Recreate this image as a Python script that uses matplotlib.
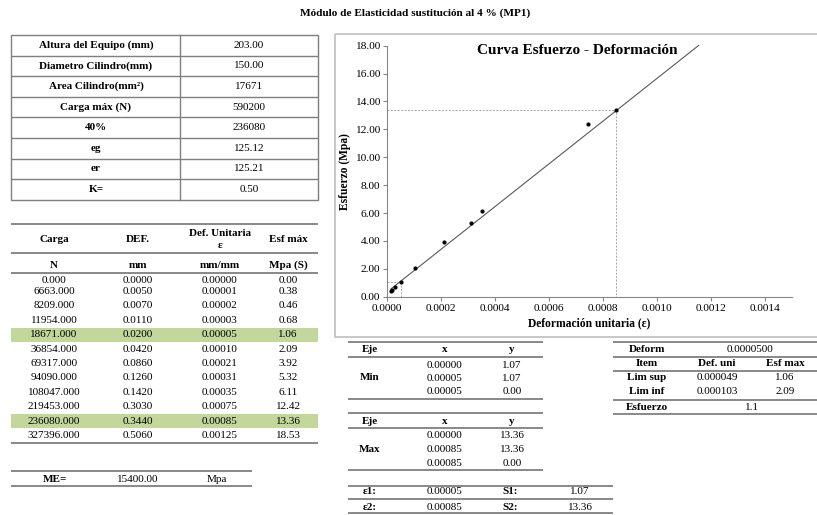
import matplotlib
matplotlib.use("Agg")
import matplotlib.pyplot as plt
from matplotlib.patches import Rectangle

plt.rcParams["font.family"] = ["Liberation Serif", "DejaVu Serif"]

# --- data ---
PARAM_LABELS = ["Altura del Equipo (mm)", "Diametro Cilindro(mm)", "Area Cilindro(mm²)",
                "Carga máx (N)", "40%", "eg", "er", "K="]
PARAM_VALUES = ["203.00", "150.00", "17671", "590200", "236080", "125.12", "125.21", "0.50"]

LOADS = [0.0, 6663.0, 8209.0, 11954.0, 18671.0, 36854.0, 69317.0, 94090.0,
         108047.0, 219453.0, 236080.0, 327396.0]
DEF_MM = [0.0, 0.005, 0.007, 0.011, 0.020, 0.042, 0.086, 0.126, 0.142, 0.303, 0.344, 0.506]
STRAIN = [0.0, 0.0000123, 0.0000172, 0.0000271, 0.0000493, 0.000103, 0.000212,
          0.000310, 0.000350, 0.000746, 0.000847, 0.001246]
STRESS = [0.00, 0.38, 0.46, 0.68, 1.06, 2.09, 3.92, 5.32, 6.11, 12.42, 13.36, 18.53]
HIGHLIGHT = [4, 10]
N_PLOTTED = 11  # last row is off the chart

TREND_SLOPE = 15300.0
TREND_INTERCEPT = 0.35
TREND_END = 0.001155

MIN_X = [0.0, 0.00005, 0.00005]
MIN_Y = [1.07, 1.07, 0.00]
MAX_X = [0.0, 0.00085, 0.00085]
MAX_Y = [13.36, 13.36, 0.00]
EPS1, S1 = 0.00005, 1.07
EPS2, S2 = 0.00085, 13.36

DEFORM = "0.0000500"
LIM_SUP = (0.000049, 1.06)
LIM_INF = (0.000103, 2.09)
ESFUERZO = 1.1
ME = 15400.00

W, H = 817, 515
LINE = "#7f7f7f"
GREEN = "#c3d69b"
FS = 8.0

fig = plt.figure(figsize=(W / 100, H / 100), dpi=100)
bg = fig.add_axes([0, 0, 1, 1])
bg.set_xlim(0, W); bg.set_ylim(H, 0); bg.axis("off")


def hl(x0, x1, y, lw=1.3, c=LINE):
    bg.plot([x0, x1], [y, y], color=c, lw=lw, solid_capstyle="butt")


def tx(x, y, s, bold=False, size=FS, ha="center"):
    bg.text(x, y, s, ha=ha, va="center", fontsize=size,
            fontweight="bold" if bold else "normal")


tx(415, 13, "Módulo de Elasticidad sustitución al 4 % (MP1)", bold=True, size=8.1)

# parameter box
top, rh = 35, 20.6
bg.add_patch(Rectangle((11, top), 307, rh * 8, fill=False, ec=LINE, lw=1))
bg.plot([180, 180], [top, top + rh * 8], color=LINE, lw=1)
for i, (lab, val) in enumerate(zip(PARAM_LABELS, PARAM_VALUES)):
    if i:
        hl(11, 318, top + rh * i, lw=1)
    tx(96, top + rh * (i + 0.5), lab, bold=True)
    tx(249, top + rh * (i + 0.5), val)

# load table
cols = [54, 138, 220, 288]
hl(11, 318, 224); hl(11, 318, 253); hl(11, 318, 273); hl(11, 318, 443)
tx(cols[0], 240, "Carga", bold=True); tx(cols[1], 240, "DEF.", bold=True)
tx(cols[2], 234, "Def. Unitaria", bold=True); tx(cols[2], 245, "ε", bold=True)
tx(cols[3], 240, "Esf máx", bold=True)
for c, u in zip(cols, ["N", "mm", "mm/mm", "Mpa (S)"]):
    tx(c, 265, u, bold=True)
row_y = [280.5] + [291.5 + 14.4 * k for k in range(len(LOADS) - 1)]
for i in range(len(LOADS)):
    y = row_y[i]
    if i in HIGHLIGHT:
        bg.add_patch(Rectangle((11, y - 7.2), 307, 14.4, color=GREEN, lw=0, zorder=0))
    tx(cols[0], y, f"{LOADS[i]:.3f}")
    tx(cols[1], y, f"{DEF_MM[i]:.4f}")
    tx(cols[2], y, f"{STRAIN[i]:.5f}")
    tx(cols[3], y, f"{STRESS[i]:.2f}")

hl(11, 252, 471); hl(11, 252, 486)
tx(55, 479, "ME=", bold=True); tx(138, 479, f"{ME:.2f}"); tx(217, 479, "Mpa")

# min / max tables
for y0, name, xs, ys in [(342, "Min", MIN_X, MIN_Y), (413, "Max", MAX_X, MAX_Y)]:
    hl(348, 543, y0); hl(348, 543, y0 + 15); hl(348, 543, y0 + 57)
    tx(370, y0 + 8, "Eje", bold=True); tx(445, y0 + 8, "x", bold=True); tx(512, y0 + 8, "y", bold=True)
    tx(370, y0 + 36, name, bold=True)
    for k, (xv, yv) in enumerate(zip(xs, ys)):
        tx(445, y0 + 23 + 13.5 * k, f"{xv:.5f}")
        tx(512, y0 + 23 + 13.5 * k, f"{yv:.2f}")

hl(348, 613, 486); hl(348, 613, 499); hl(348, 613, 513)
tx(370, 492, "ε1:", bold=True); tx(445, 492, f"{EPS1:.5f}"); tx(510, 492, "S1:", bold=True); tx(580, 492, f"{S1:.2f}")
tx(370, 507, "ε2:", bold=True); tx(445, 507, f"{EPS2:.5f}"); tx(510, 507, "S2:", bold=True); tx(580, 507, f"{S2:.2f}")

# right summary table
for y in [342, 357, 371, 400, 414]:
    hl(613, W, y)
tx(647, 350, "Deform", bold=True); tx(750, 350, DEFORM)
tx(647, 364, "Item", bold=True); tx(717, 364, "Def. uni", bold=True); tx(785, 364, "Esf max", bold=True)
tx(647, 378, "Lim sup", bold=True); tx(717, 378, f"{LIM_SUP[0]:.6f}"); tx(785, 378, f"{LIM_SUP[1]:.2f}")
tx(647, 392, "Lim inf", bold=True); tx(717, 392, f"{LIM_INF[0]:.6f}"); tx(785, 392, f"{LIM_INF[1]:.2f}")
tx(647, 408, "Esfuerzo", bold=True); tx(752, 408, f"{ESFUERZO:.1f}")

# chart frame
bg.add_patch(Rectangle((335, 34), 500, 303, fill=False, ec="#bfbfbf", lw=1.2))

ax = fig.add_axes([387.3 / W, 1 - 296.7 / H, 404.4 / W, 251 / H])
ax.set_facecolor("none")
ax.set_xlim(0, 0.0015); ax.set_ylim(0, 18)
ax.set_xticks([0.0002 * k for k in range(8)])
ax.set_yticks(range(0, 19, 2))
ax.set_xticklabels([f"{0.0002 * k:.4f}" for k in range(8)], fontsize=8.2)
ax.set_yticklabels([f"{v:.2f}" for v in range(0, 19, 2)], fontsize=8.2)
for s in ["top", "right"]:
    ax.spines[s].set_visible(False)
for s in ["left", "bottom"]:
    ax.spines[s].set_color("#868686"); ax.spines[s].set_linewidth(0.8)
ax.tick_params(colors="#868686", labelcolor="black", length=3, width=0.8, pad=2)

ax.plot(MIN_X, MIN_Y, ls=(0, (2, 1.5)), color="#a6a6a6", lw=0.7)
ax.plot(MAX_X, MAX_Y, ls=(0, (2, 1.5)), color="#a6a6a6", lw=0.7)
tx0 = STRAIN[1]
ax.plot([tx0, TREND_END], [TREND_SLOPE * tx0 + TREND_INTERCEPT, TREND_SLOPE * TREND_END + TREND_INTERCEPT],
        color="#595959", lw=0.8, clip_on=False)
ax.scatter(STRAIN[1:N_PLOTTED], STRESS[1:N_PLOTTED], s=4, color="black", zorder=3, clip_on=False)

ax.set_xlabel("Deformación unitaria (ε)", fontsize=8.3, fontweight="bold", labelpad=3)
ax.set_ylabel("Esfuerzo (Mpa)", fontsize=8.3, fontweight="bold", labelpad=3)
tx(577, 51, "Curva Esfuerzo - Deformación", bold=True, size=11)

fig.savefig("out.png", dpi=100)
